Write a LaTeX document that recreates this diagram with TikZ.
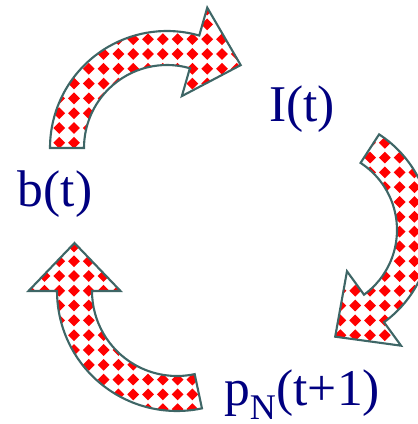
\documentclass[tikz,border=0pt]{standalone}
\usepackage{fontspec}
\setmainfont{Liberation Serif}
\usepackage{tikz}
\usetikzlibrary{calc}
\usepackage{xcolor}
\definecolor{CycNavy}{RGB}{0,0,128}
\definecolor{CycEdge}{RGB}{62,102,102}
\definecolor{CycRed}{RGB}{255,0,0}

% #1 centre, #2 inner radius, #3 outer radius, #4 tail angle, #5 head angle
\newcommand{\ringarrow}[5]{%
\path[checkarrow] ($(#1)+(#4:#3)$) arc[start angle=#4,end angle=#5,radius=#3]
 -- ($(#1)+(#5:{(#2+#3)/2+46})$)
 -- ($(#1)+(#5:{(#2+#3)/2})+({#5-90}:48)$)
 -- ($(#1)+(#5:{(#2+#3)/2-46})$)
 -- ($(#1)+(#5:#2)$) arc[start angle=#5,end angle=#4,radius=#2] -- cycle;}

\begin{document}
\begin{tikzpicture}[
x=0.03cm,y=0.03cm,
checkarrow/.style={draw=CycEdge,line width=1.8pt,line join=miter,fill=white,
path picture={
\foreach \gx in {0,...,29}
\foreach \gy in {0,...,29}
\fill[CycRed] ({14.8*\gx},{14.8*\gy-5.9}) -- ++(5.9,5.9) -- ++(-5.9,5.9) -- ++(-5.9,-5.9) -- cycle;
}},
label/.style={anchor=base,text=CycNavy,inner sep=0pt,font=\fontsize{44}{50}\selectfont}
]
\useasboundingbox (0,0) rectangle (417,424);
\coordinate (c1) at (167,276);
\coordinate (c2) at (317,194);
\coordinate (c3) at (177,133);
\ringarrow{c1}{83}{117}{180}{74}
\ringarrow{c2}{80}{114}{57}{-54}
\ringarrow{c3}{85}{120}{-78}{-180}
\node[label] (b) at (55,217) {b(t)};
\node[label] (i) at (302,302) {I(t)};
\node[label] (p) at (302,18) {p\textsubscript{N}(t+1)};
\end{tikzpicture}
\end{document}
